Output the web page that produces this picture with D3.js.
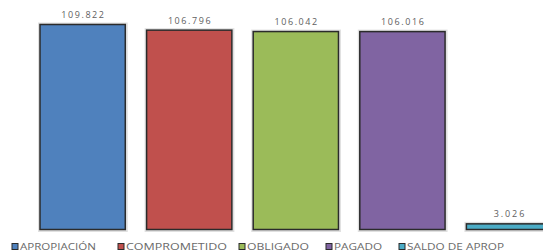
<!DOCTYPE html>
<html><head><meta charset="utf-8">
<script src="https://cdn.jsdelivr.net/npm/d3@7/dist/d3.min.js"></script>
<style>html,body{margin:0;padding:0;background:#fff;overflow:hidden}</style>
</head><body>
<script>
const categories = ["APROPIACIÓN","COMPROMETIDO","OBLIGADO","PAGADO","SALDO DE APROP"];
const values = [109.822, 106.796, 106.042, 106.016, 3.026];
const valueLabels = ["109.822","106.796","106.042","106.016","3.026"];
const colors = ["#4F81BD","#C0504D","#9BBB59","#8064A2","#4BACC6"];

const W = 543, H = 251;
const svg = d3.select("body").append("svg").attr("width", W).attr("height", H);

const x = d3.scaleBand().domain(categories).range([29.34, 562.34]).paddingInner(0.2).paddingOuter(0.1);
const y = d3.scaleLinear().domain([0, 110]).range([229.5, 24.17]);

const g = svg.append("g");
g.selectAll("rect.sh").data(categories).join("rect")
  .attr("x", d => x(d) - 1).attr("y", (d,i) => y(values[i]) - 1)
  .attr("width", x.bandwidth() + 2.5).attr("height", (d,i) => y(0) - y(values[i]) + 2.5)
  .attr("fill", "none").attr("stroke", "#000").attr("stroke-opacity", 0.12).attr("stroke-width", 2);
g.selectAll("rect.bar").data(categories).join("rect")
  .attr("x", d => x(d)).attr("y", (d,i) => y(values[i]))
  .attr("width", x.bandwidth()).attr("height", (d,i) => y(0) - y(values[i]))
  .attr("fill", (d,i) => colors[i]).attr("stroke", "#2b2b2b").attr("stroke-width", 1.5);

g.selectAll("text.lbl").data(categories).join("text")
  .attr("x", d => x(d) + x.bandwidth()/2).attr("y", (d,i) => y(values[i]) - 6.5)
  .attr("text-anchor", "middle").attr("font-family", "Open Sans, sans-serif")
  .attr("font-size", 9).attr("fill", "#606060")
  .attr("textLength", (d,i) => valueLabels[i].length * 6.1).attr("lengthAdjust", "spacing")
  .text((d,i) => valueLabels[i]);

const legX = [12, 118, 239, 326, 399];
const legW = [76, 101, 62, 48, 97];
const lg = svg.append("g");
categories.forEach((c, i) => {
  lg.append("rect").attr("x", legX[i]).attr("y", 243.5).attr("width", 6).attr("height", 6)
    .attr("fill", colors[i]).attr("stroke", "#2b2b2b").attr("stroke-width", 1);
  lg.append("text").attr("x", legX[i] + 8).attr("y", 249.5)
    .attr("font-family", "Open Sans, sans-serif").attr("font-size", 8.5).attr("fill", "#6a6a6a")
    .attr("textLength", legW[i]).attr("lengthAdjust", "spacingAndGlyphs")
    .text(c);
});
</script>
</body></html>
